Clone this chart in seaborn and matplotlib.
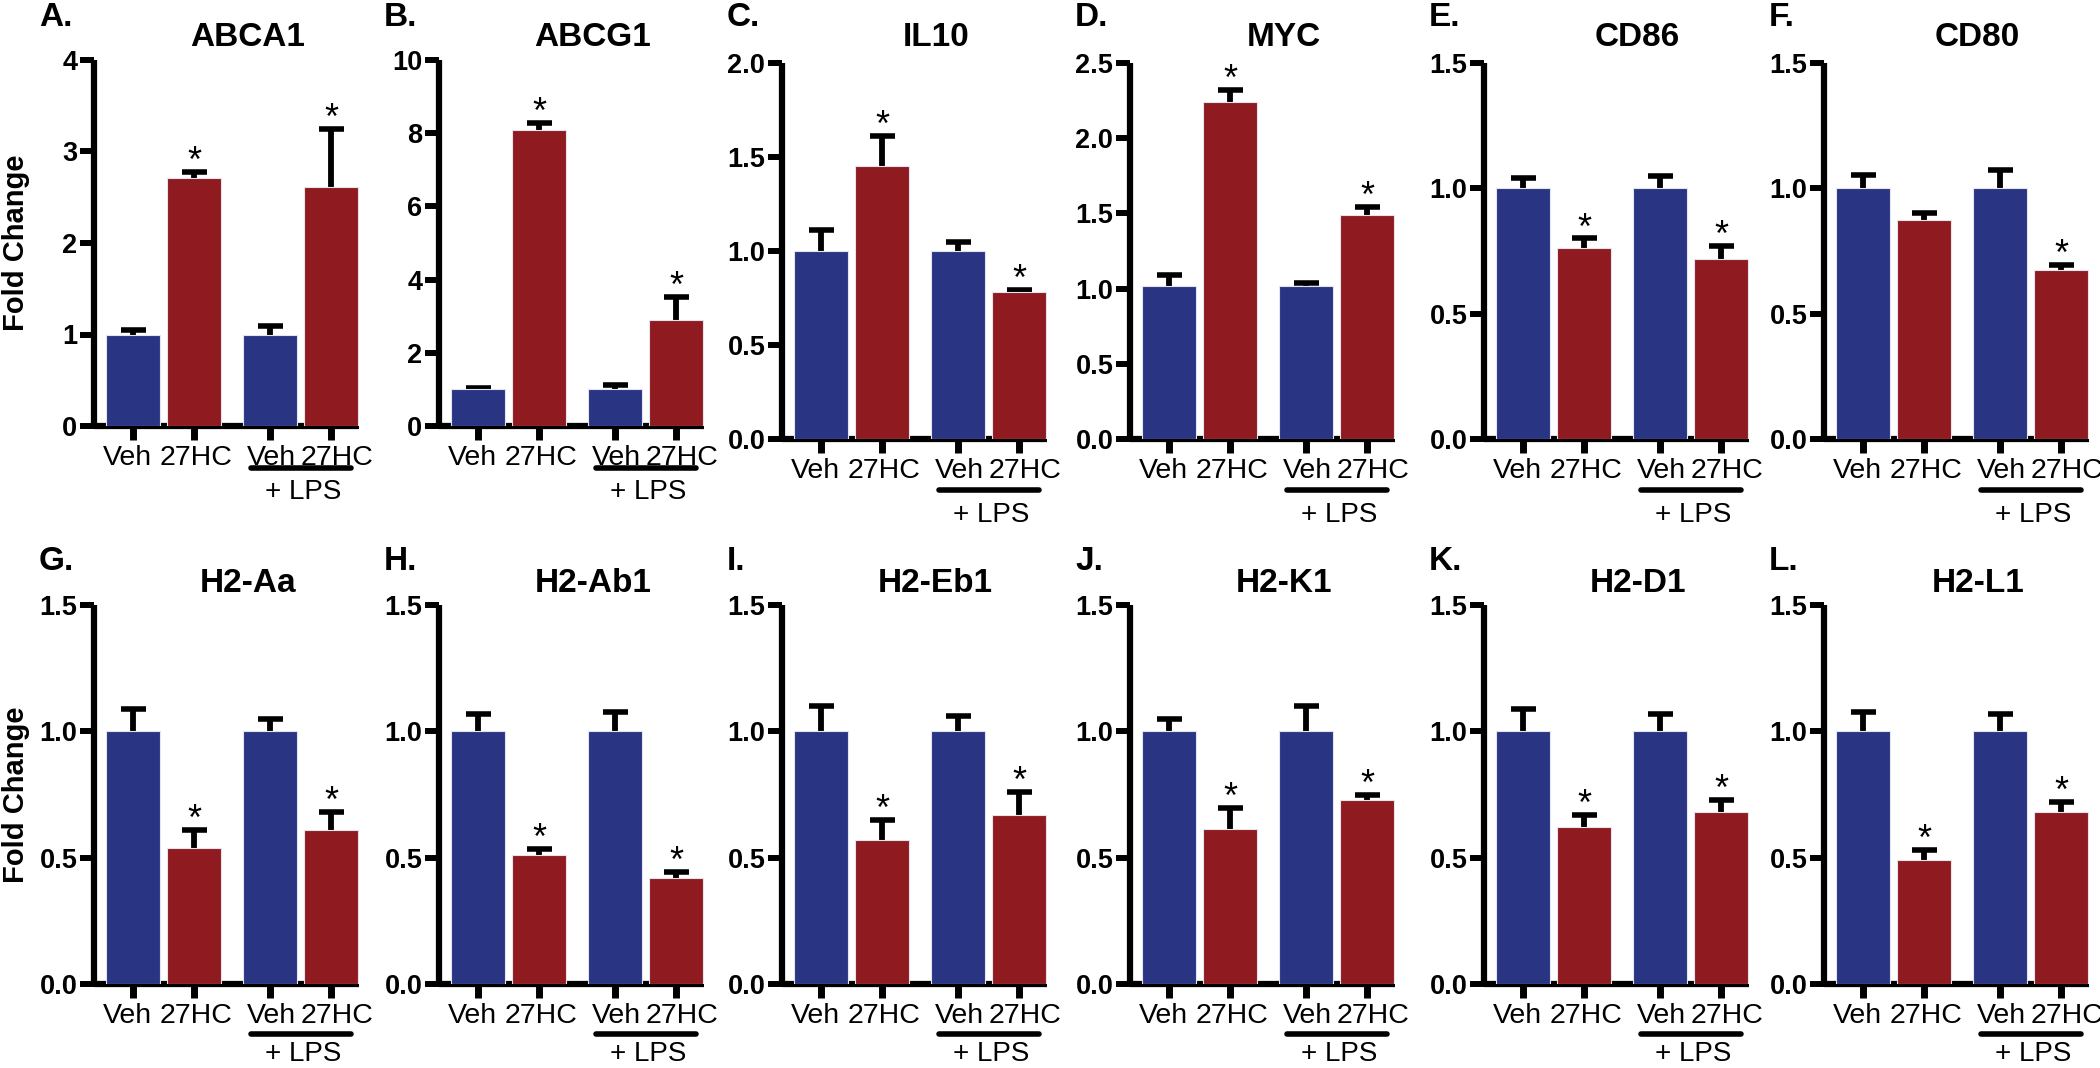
"""
Fold-change bar panels (Veh vs 27HC, with and without LPS) for twelve genes,
laid out 2 x 6 in a GraphPad-like style.
"""

import matplotlib
matplotlib.use("Agg")
import matplotlib.pyplot as plt
import matplotlib.transforms as mtransforms
import pandas as pd
import seaborn as sns

# ---- data ---------------------------------------------------------------
GENES = ["ABCA1", "ABCG1", "IL10", "MYC", "CD86", "CD80",
         "H2-Aa", "H2-Ab1", "H2-Eb1", "H2-K1", "H2-D1", "H2-L1"]
LETTERS = ["A.", "B.", "C.", "D.", "E.", "F.", "G.", "H.", "I.", "J.", "K.", "L."]
GROUPS = ["Veh", "27HC", "Veh", "27HC"]

ABCA1_MEAN = [1.00, 2.71, 1.00, 2.61]
ABCA1_SEM = [0.05, 0.07, 0.09, 0.64]
ABCG1_MEAN = [1.00, 8.10, 1.00, 2.90]
ABCG1_SEM = [0.05, 0.17, 0.12, 0.62]
IL10_MEAN = [1.00, 1.45, 1.00, 0.78]
IL10_SEM = [0.11, 0.16, 0.05, 0.015]
MYC_MEAN = [1.02, 2.24, 1.02, 1.49]
MYC_SEM = [0.07, 0.08, 0.02, 0.05]
CD86_MEAN = [1.00, 0.76, 1.00, 0.72]
CD86_SEM = [0.04, 0.04, 0.05, 0.05]
CD80_MEAN = [1.00, 0.875, 1.00, 0.675]
CD80_SEM = [0.055, 0.025, 0.075, 0.02]
H2AA_MEAN = [1.00, 0.54, 1.00, 0.61]
H2AA_SEM = [0.09, 0.07, 0.05, 0.07]
H2AB1_MEAN = [1.00, 0.51, 1.00, 0.42]
H2AB1_SEM = [0.07, 0.025, 0.075, 0.025]
H2EB1_MEAN = [1.00, 0.57, 1.00, 0.67]
H2EB1_SEM = [0.10, 0.08, 0.06, 0.09]
H2K1_MEAN = [1.00, 0.615, 1.00, 0.73]
H2K1_SEM = [0.05, 0.08, 0.10, 0.02]
H2D1_MEAN = [1.00, 0.62, 1.00, 0.68]
H2D1_SEM = [0.09, 0.05, 0.07, 0.05]
H2L1_MEAN = [1.00, 0.49, 1.00, 0.68]
H2L1_SEM = [0.075, 0.04, 0.07, 0.04]

# significance stars per bar
STARS_DEFAULT = [False, True, False, True]
STARS_CD80 = [False, False, False, True]

# y-axis range per panel (max, step)
Y_MAX = [4, 10, 2.0, 2.5, 1.5, 1.5, 1.5, 1.5, 1.5, 1.5, 1.5, 1.5]
Y_STEP = [1, 2, 0.5, 0.5, 0.5, 0.5, 0.5, 0.5, 0.5, 0.5, 0.5, 0.5]

# ---- layout / style ------------------------------------------------------
BAR_X = [0.0, 1.0, 2.24, 3.24]
PALETTE = {"Veh": "#293583", "27HC": "#8F1A1F"}
W_PX, H_PX = 2100, 1068
AX_LEFT_PX = [94, 439, 782, 1130, 1484, 1824]
AX_W_PX = 265
AX_TOP_PX = [60, 60, 63, 63, 63, 63] + [605] * 6
AX_BOTTOM_PX = [426, 426, 439, 439, 439, 439] + [984] * 6
LETTER_Y_PX = [17, 562]
TITLE_Y_PX = [37, 583]
LABEL_SHIFT_PX = [-6, 2, 2, 6]
FONT = "Liberation Sans"

sns.set_style("ticks")
plt.rcParams["font.family"] = [FONT, "DejaVu Sans"]
plt.rcParams.update({"text.color": "black", "axes.labelcolor": "black",
                     "xtick.color": "black", "ytick.color": "black",
                     "axes.edgecolor": "black"})


def draw_panel(fig, ax, i, mean, sem, stars):
    df = pd.DataFrame({"x": BAR_X, "group": GROUPS, "mean": mean, "sem": sem})
    row = i // 6

    ax.errorbar(df["x"], df["mean"], yerr=df["sem"], fmt="none", ecolor="black",
                elinewidth=4.2, capsize=9, capthick=4, zorder=2)
    sns.barplot(data=df, x="x", y="mean", hue="group", palette=PALETTE,
                native_scale=True, dodge=False, width=0.885, errorbar=None,
                saturation=1, legend=False, edgecolor="#e4e4ee", linewidth=0.8,
                zorder=3, ax=ax)

    for x, m, s, st in zip(BAR_X, mean, sem, stars):
        if st:
            ax.annotate("*", xy=(x, m + s), xytext=(0, 0), textcoords="offset points",
                        ha="center", va="baseline", fontsize=26, zorder=4)

    ymax, step = Y_MAX[i], Y_STEP[i]
    n = int(round(ymax / step))
    ticks = [k * step for k in range(n + 1)]
    labels = [f"{t:g}" if i < 2 else f"{t:.1f}" for t in ticks]
    ax.set_ylim(0, ymax)
    ax.set_yticks(ticks, labels, fontsize=19.5, fontweight="bold")
    ax.set_xlim(-0.64, 3.70)
    ax.set_xticks(BAR_X, GROUPS, fontsize=20.5)
    ax.set_xlabel("")
    ax.set_ylabel("")

    sns.despine(ax=ax)
    for side in ("left", "bottom"):
        ax.spines[side].set_linewidth(4.5)
        ax.spines[side].set_color("black")
        ax.spines[side].set_capstyle("butt")
    ax.tick_params(axis="y", length=10, width=4.3, pad=2, color="black")
    ax.tick_params(axis="x", length=10, width=5, pad=4, color="black")
    for lbl, dx in zip(ax.get_xticklabels(), LABEL_SHIFT_PX):
        lbl.set_transform(lbl.get_transform()
                          + mtransforms.ScaledTranslation(dx / 100, 0, fig.dpi_scale_trans))

    # "+ LPS" bracket under the last two bars
    h_px = AX_BOTTOM_PX[i] - AX_TOP_PX[i]
    if i < 2:
        line_px, text_px = 42, 66
    elif row == 0:
        line_px, text_px = 51, 76
    else:
        line_px, text_px = 50, 70
    trans = mtransforms.blended_transform_factory(ax.transData, ax.transAxes)
    ax.plot([BAR_X[2] - 0.31, BAR_X[3] + 0.33], [-line_px / h_px] * 2, color="black",
            lw=4, solid_capstyle="round", transform=trans, clip_on=False)
    ax.text((BAR_X[2] + BAR_X[3]) / 2 + 0.05, -text_px / h_px, "+ LPS", transform=trans,
            ha="center", va="center", fontsize=20)

    # gene title and panel letter, placed in figure pixels
    left = AX_LEFT_PX[i % 6]
    fig.text((left + 0.58 * AX_W_PX) / W_PX, 1 - TITLE_Y_PX[row] / H_PX, GENES[i],
             ha="center", va="center", fontsize=24, fontweight="bold")
    fig.text((left - 55) / W_PX, 1 - LETTER_Y_PX[row] / H_PX, LETTERS[i],
             ha="left", va="center", fontsize=24, fontweight="bold")

    if i % 6 == 0:
        ax.set_ylabel("Fold Change", fontsize=21, fontweight="bold")
        ax.yaxis.set_label_coords(-(left - 30) / AX_W_PX, 0.5)


def main():
    means = [ABCA1_MEAN, ABCG1_MEAN, IL10_MEAN, MYC_MEAN, CD86_MEAN, CD80_MEAN,
             H2AA_MEAN, H2AB1_MEAN, H2EB1_MEAN, H2K1_MEAN, H2D1_MEAN, H2L1_MEAN]
    sems = [ABCA1_SEM, ABCG1_SEM, IL10_SEM, MYC_SEM, CD86_SEM, CD80_SEM,
            H2AA_SEM, H2AB1_SEM, H2EB1_SEM, H2K1_SEM, H2D1_SEM, H2L1_SEM]

    fig = plt.figure(figsize=(W_PX / 100, H_PX / 100), dpi=100, facecolor="white")
    for i in range(12):
        top, bottom = AX_TOP_PX[i], AX_BOTTOM_PX[i]
        rect = [AX_LEFT_PX[i % 6] / W_PX, 1 - bottom / H_PX,
                AX_W_PX / W_PX, (bottom - top) / H_PX]
        ax = fig.add_axes(rect)
        ax.set_facecolor("none")
        stars = STARS_CD80 if GENES[i] == "CD80" else STARS_DEFAULT
        draw_panel(fig, ax, i, means[i], sems[i], stars)

    fig.savefig("out.png", dpi=100, facecolor="white")
    plt.close(fig)


if __name__ == "__main__":
    main()
